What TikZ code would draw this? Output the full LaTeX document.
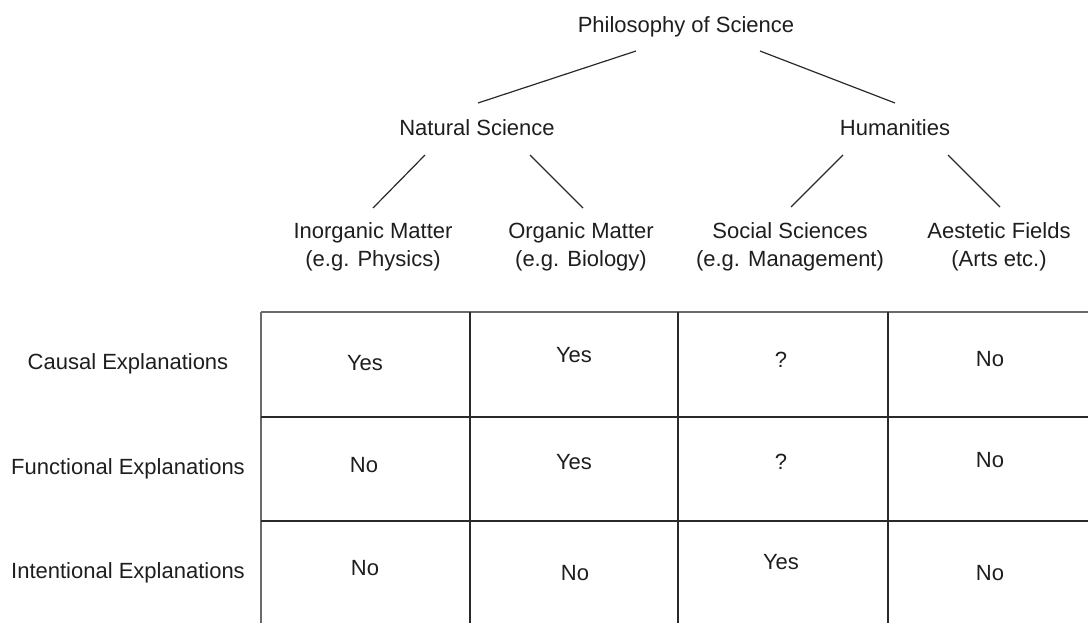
\documentclass[tikz,border=0pt]{standalone}
\usepackage{fontspec}
\setmainfont{Liberation Sans}
\usetikzlibrary{calc}
\definecolor{ink}{HTML}{1E1E1E}
\definecolor{rule}{HTML}{2A2A2A}
\definecolor{edge}{HTML}{6A6A6A}
\tikzset{
  lbl/.style={inner sep=0pt, text=ink, font=\fontsize{22}{28}\selectfont},
  leaf/.style={lbl, align=center},
  branch/.style={draw=rule, line width=1.2pt},
  grid/.style={draw=rule, line width=1.8pt},
  outer/.style={draw=edge, line width=1.8pt}
}
\begin{document}
\begin{tikzpicture}[x=1pt,y=-1pt]
\useasboundingbox (0,0) rectangle (1088,622);
\clip (0,0) rectangle (1088,622);
% tree
\node[lbl, anchor=base] (phil) at (686,32) {Philosophy of Science};
\node[lbl, anchor=base] (nat) at (477,135) {Natural Science};
\node[lbl, anchor=base] (hum) at (895,135) {Humanities};
\node[leaf] (inorg) at (373,247) {Inorganic Matter\\(e.g. Physics)};
\node[leaf] (org) at (581,247) {Organic Matter\\(e.g. Biology)};
\node[leaf] (soc) at (790,247) {Social Sciences\\(e.g. Management)};
\node[leaf] (aes) at (999,247) {Aestetic Fields\\(Arts etc.)};
\draw[branch] ([shift={(-50,19)}]phil.base) -- ([shift={(1,-32)}]nat.base);
\draw[branch] ([shift={(74,19)}]phil.base) -- ([shift={(0,-32)}]hum.base);
\draw[branch] ([shift={(-52,20)}]nat.base) -- ([shift={(0,-39)}]inorg.center);
\draw[branch] ([shift={(53,20)}]nat.base) -- ([shift={(2,-39)}]org.center);
\draw[branch] ([shift={(-52,20)}]hum.base) -- ([shift={(1,-40)}]soc.center);
\draw[branch] ([shift={(53,20)}]hum.base) -- ([shift={(1,-40)}]aes.center);
% table grid
\draw[outer] (261,312) -- (1100,312);
\draw[outer] (261,312) -- (261,630);
\draw[grid] (261,417) -- (1100,417);
\draw[grid] (261,521) -- (1100,521);
\draw[grid] (470,312) -- (470,630);
\draw[grid] (678,312) -- (678,630);
\draw[grid] (888,312) -- (888,630);
% row labels
\node[lbl] (r1) at (128,364) {Causal Explanations};
\node[lbl] (r2) at (128,469) {Functional Explanations};
\node[lbl] (r3) at (128,573) {Intentional Explanations};
% cells
\node[lbl] (c11) at (365,363) {Yes};
\node[lbl] (c12) at (574,355) {Yes};
\node[lbl] (c13) at (781,360) {?};
\node[lbl] (c14) at (990,359) {No};
\node[lbl] (c21) at (364,465) {No};
\node[lbl] (c22) at (574,462) {Yes};
\node[lbl] (c23) at (781,462) {?};
\node[lbl] (c24) at (990,460) {No};
\node[lbl] (c31) at (365,568) {No};
\node[lbl] (c32) at (575,573) {No};
\node[lbl] (c33) at (781,562) {Yes};
\node[lbl] (c34) at (990,573) {No};
\end{tikzpicture}
\end{document}
